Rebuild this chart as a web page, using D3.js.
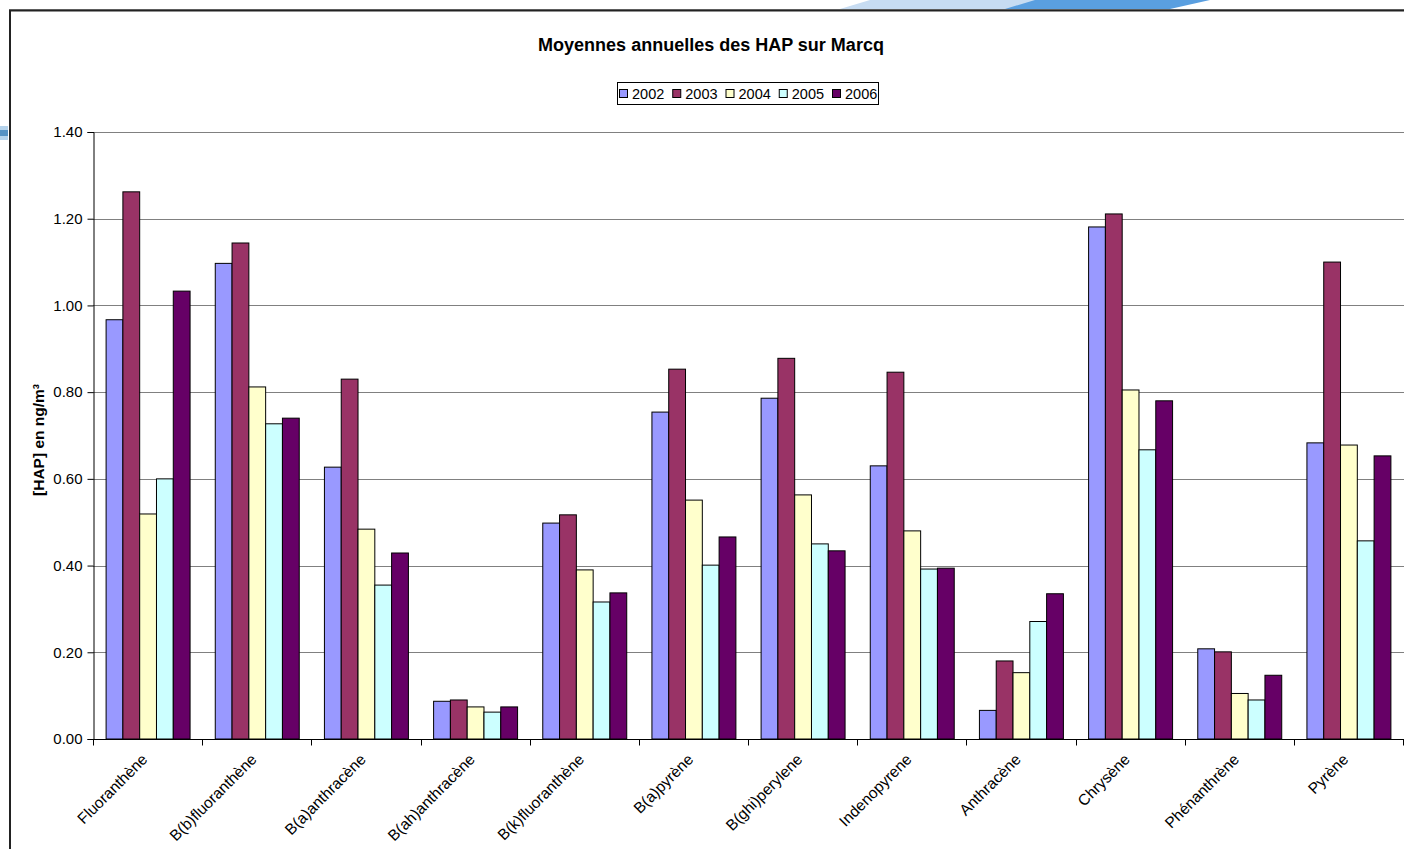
<!DOCTYPE html>
<html>
<head>
<meta charset="utf-8">
<script src="https://cdn.jsdelivr.net/npm/d3@7"></script>
<style>
  body { margin: 0; background: #fff; }
  svg { display: block; font-family: "Liberation Sans", Arial, sans-serif; }
</style>
</head>
<body>
<div id="graph"></div>
<script>
// data
var categories = ["Fluoranthène", "B(b)fluoranthène", "B(a)anthracène", "B(ah)anthracène",
  "B(k)fluoranthène", "B(a)pyrène", "B(ghi)perylene", "Indenopyrene", "Anthracène",
  "Chrysène", "Phénanthrène", "Pyrène"];
var years = ["2002", "2003", "2004", "2005", "2006"];
var v2002 = [0.967, 1.097, 0.627, 0.087, 0.498, 0.754, 0.786, 0.630, 0.066, 1.181, 0.208, 0.683];
var v2003 = [1.262, 1.144, 0.830, 0.090, 0.517, 0.853, 0.878, 0.846, 0.180, 1.211, 0.201, 1.100];
var v2004 = [0.519, 0.812, 0.484, 0.074, 0.390, 0.551, 0.563, 0.480, 0.153, 0.805, 0.105, 0.678];
var v2005 = [0.600, 0.727, 0.355, 0.062, 0.316, 0.401, 0.450, 0.392, 0.271, 0.667, 0.090, 0.457];
var v2006 = [1.033, 0.740, 0.429, 0.074, 0.337, 0.466, 0.434, 0.394, 0.335, 0.780, 0.147, 0.653];
var yTicks = [0, 0.2, 0.4, 0.6, 0.8, 1.0, 1.2, 1.4];
var colors = ["#9999ff", "#993366", "#ffffcc", "#ccffff", "#660066"];

var series = [v2002, v2003, v2004, v2005, v2006];
var table = categories.map(function(c, i) {
  return { name: c, values: years.map(function(y, j) { return { year: y, value: series[j][i] }; }) };
});

var width = 1404, height = 849;

var svg = d3.select('#graph').append('svg')
  .attr('width', width).attr('height', height);

// decorative bits of the page behind the chart
svg.append('path').attr('d', 'M840,9 L870,0 L1040,0 L1010,9 Z').attr('fill', '#c7dcf2');
svg.append('path').attr('d', 'M1005,9 L1035,0 L1210,0 L1170,9 Z').attr('fill', '#5a9fe0');
svg.append('rect').attr('x', 0).attr('y', 126).attr('width', 8).attr('height', 14).attr('fill', '#b5d3ec');
svg.append('rect').attr('x', 0).attr('y', 130).attr('width', 8).attr('height', 6).attr('fill', '#5592c4');

// chart frame (goes past the right and bottom edges)
svg.append('line').attr('x1', 9).attr('x2', width).attr('y1', 9.5).attr('y2', 9.5).attr('stroke', '#999');
svg.append('path').attr('d', 'M10,' + height + ' L10,10.5 L' + width + ',10.5')
  .attr('fill', 'none').attr('stroke', '#222').attr('stroke-width', 2);

var x0 = d3.scaleBand().domain(categories).range([93, 1403]).padding(0);
var x1 = d3.scaleBand().domain(years).range([0, x0.bandwidth()]).paddingInner(0).paddingOuter(0.75);
var y = d3.scaleLinear().domain([0, 1.4]).range([739, 132]);
var color = d3.scaleOrdinal().domain(years).range(colors);

// gridlines
svg.append('g').selectAll('line').data(yTicks.filter(function(d) { return d > 0; }))
  .enter().append('line')
  .attr('x1', 93).attr('x2', width)
  .attr('y1', function(d) { return Math.round(y(d)) + 0.5; })
  .attr('y2', function(d) { return Math.round(y(d)) + 0.5; })
  .attr('stroke', '#808080').attr('stroke-width', 1);

// bars
var groups = svg.append('g').selectAll('g').data(table).enter().append('g')
  .attr('transform', function(d) { return 'translate(' + x0(d.name) + ',0)'; });
groups.selectAll('rect').data(function(d) { return d.values; }).enter().append('rect')
  .attr('x', function(d) { return x1(d.year) + 0.5; })
  .attr('y', function(d) { return y(d.value); })
  .attr('width', x1.bandwidth())
  .attr('height', function(d) { return y(0) - y(d.value); })
  .attr('fill', function(d) { return color(d.year); })
  .attr('stroke', '#000').attr('stroke-width', 1);

// y axis
var yAxis = svg.append('g').attr('transform', 'translate(93.5,0)')
  .call(d3.axisLeft(y).tickValues(yTicks).tickFormat(d3.format('.2f')).tickSize(6).tickPadding(5));
yAxis.select('.domain').attr('stroke', '#000');
yAxis.selectAll('text').attr('font-size', 15).attr('fill', '#000')
  .attr('font-family', '"Liberation Sans", Arial, sans-serif');

// x axis
var xAxis = svg.append('g').attr('transform', 'translate(0,739.5)');
xAxis.append('line').attr('x1', 93).attr('x2', width).attr('stroke', '#000');
xAxis.selectAll('.tk').data(categories.concat(['end'])).enter().append('line')
  .attr('class', 'tk')
  .attr('x1', function(d, i) { return Math.round(93 + i * x0.step()) + 0.5; })
  .attr('x2', function(d, i) { return Math.round(93 + i * x0.step()) + 0.5; })
  .attr('y1', 0).attr('y2', 6).attr('stroke', '#000');
xAxis.selectAll('text').data(categories).enter().append('text')
  .attr('transform', function(d) {
    return 'translate(' + (x0(d) + x0.bandwidth() / 2 - 3) + ',17) rotate(-45)';
  })
  .attr('text-anchor', 'end')
  .attr('dy', '0.35em')
  .attr('font-size', 15.5)
  .text(function(d) { return d; });

// title
svg.append('text').attr('x', 711).attr('y', 51).attr('text-anchor', 'middle')
  .attr('font-size', 18).attr('font-weight', 'bold').text('Moyennes annuelles des HAP sur Marcq');

// y title
svg.append('text').attr('transform', 'translate(44,440) rotate(-90)')
  .attr('text-anchor', 'middle').attr('font-size', 15.5).attr('font-weight', 'bold')
  .text('[HAP] en ng/m³');

// legend
var legend = svg.append('g').attr('transform', 'translate(617,82)');
legend.append('rect').attr('x', 0.5).attr('y', 0.5).attr('width', 261).attr('height', 22)
  .attr('fill', '#fff').attr('stroke', '#000');
var item = legend.selectAll('.item').data(years).enter().append('g')
  .attr('transform', function(d, i) { return 'translate(' + (2 + i * 53.25) + ',0)'; });
item.append('rect').attr('x', 0.5).attr('y', 7.5).attr('width', 8).attr('height', 8)
  .attr('fill', function(d) { return color(d); }).attr('stroke', '#000');
item.append('text').attr('x', 13).attr('y', 17).attr('font-size', 14.5).text(function(d) { return d; });
</script>
</body>
</html>
